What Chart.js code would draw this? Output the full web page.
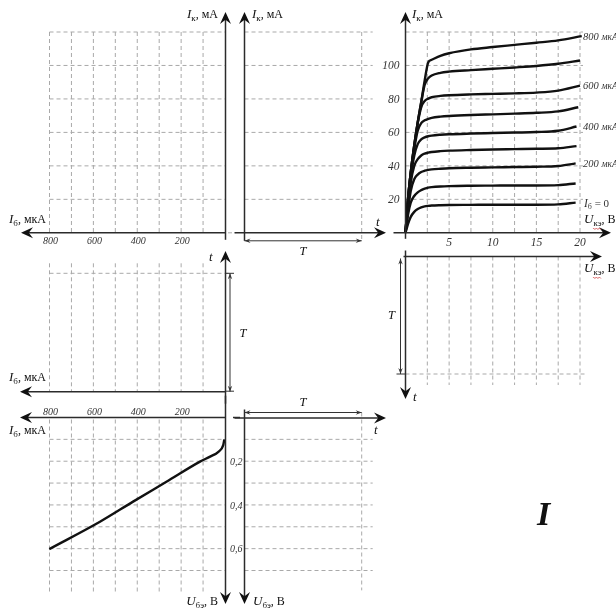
<!DOCTYPE html>
<html><head><meta charset="utf-8">
<script src="https://cdn.jsdelivr.net/npm/chart.js@4/dist/chart.umd.min.js"></script>
<style>html,body{margin:0;padding:0;background:#fff;overflow:hidden}canvas{display:block}</style>
</head><body>
<canvas id="c" width="616" height="610"></canvas>
<script>
// ================= DATA =================
const baseCurrents = [0, 100, 200, 300, 400, 500, 600, 700, 800];        // Iб, мкА
const ukeGrid = [0, 0.3, 0.6, 1, 1.4, 1.8, 2.2, 2.6, 3, 4, 5, 7.5, 10, 12.5, 15, 17.5]; // Uкэ, В
const ukeEnd = [19.5, 19.5, 19.5, 19.6, 19.6, 19.8, 20, 20, 20.2];       // last Uкэ point of each curve
const ik_ib0   = [0, 5.5, 9.5, 12.5, 14.2, 15.2, 15.8, 16.1, 16.3, 16.5, 16.6, 16.7, 16.8, 16.8, 16.8, 17, 18];
const ik_ib100 = [0, 11, 18, 22, 24.2, 25.5, 26.4, 27, 27.3, 27.7, 27.9, 28.1, 28.2, 28.3, 28.3, 28.5, 29.5];
const ik_ib200 = [0, 14, 25, 32, 34.8, 36.3, 37.1, 37.6, 37.9, 38.3, 38.6, 38.9, 39.1, 39.3, 39.5, 39.9, 41.5];
const ik_ib300 = [0, 16, 30, 40, 44, 46.2, 47.3, 47.9, 48.3, 48.8, 49.1, 49.5, 49.8, 50, 50.2, 50.5, 51.8];
const ik_ib400 = [0, 18, 33, 46, 53, 55.8, 57, 57.7, 58.1, 58.6, 58.9, 59.3, 59.6, 59.9, 60.2, 61, 63.5];
const ik_ib500 = [0, 20, 35, 50, 61, 65.5, 67.2, 68.1, 68.7, 69.4, 69.8, 70.4, 70.8, 71.2, 71.7, 72.6, 75];
const ik_ib600 = [0, 21, 36, 52, 65.5, 75, 78.8, 80.2, 81, 81.8, 82.2, 82.7, 83, 83.3, 83.8, 85, 88];
const ik_ib700 = [0, 21, 36, 52, 66, 78, 88.5, 92.3, 94, 95.6, 96.3, 97.2, 98, 98.8, 99.7, 101, 103];
const ik_ib800 = [0, 21, 36, 52, 66, 78, 91, 101.8, 103.4, 105.8, 107.3, 109.6, 111, 112.3, 113.6, 115, 117.5];
const ibInput  = [3, 8, 30, 68, 114, 267, 419, 570, 801];                 // Iб, мкА
const ubeInput = [0.1, 0.126, 0.157, 0.179, 0.202, 0.294, 0.385, 0.477, 0.602]; // Uбэ, В
const ibTickLabels = [800, 600, 400, 200];
const ibGridValues = [100, 200, 300, 400, 500, 600, 700, 800];
const ikTickLabels = [20, 40, 60, 80, 100];
const ikGridValues = [20, 40, 60, 80, 100, 120];
const ukeTickLabels = [5, 10, 15, 20];
const ukeGridValues = [2.5, 5, 7.5, 10, 12.5, 15, 17.5, 20];
const ubeTickLabels = [0.2, 0.4, 0.6];
const ubeGridValues = [0.1, 0.2, 0.3, 0.4, 0.5, 0.6, 0.7];
const curveLabelCurrents = [800, 600, 400, 200, 0];
const ikCurves = [ik_ib0, ik_ib100, ik_ib200, ik_ib300, ik_ib400, ik_ib500, ik_ib600, ik_ib700, ik_ib800];

// ================= LAYOUT =================
const W = 616, H = 610;
const SERIF = '"Liberation Serif", "DejaVu Serif", serif';
function fitScale(axis, v0, p0, v1, p1) {
  const size = axis === 'x' ? W : H;
  const k = (p1 - p0) / (v1 - v0);
  const a = v0 + (0 - p0) / k, b = v0 + (size - p0) / k;
  let r;
  if (axis === 'x') r = a < b ? {min: a, max: b, reverse: false} : {min: b, max: a, reverse: true};
  else r = b < a ? {min: b, max: a, reverse: false} : {min: a, max: b, reverse: true};
  return Object.assign({type: 'linear', axis: axis, display: false, ticks: {maxTicksLimit: 3}}, r);
}
const scales = {
  xIb:  fitScale('x', 0, 225, 800, 49.5),
  xT:   fitScale('x', 0, 244.5, 1, 361.7),
  xUke: fitScale('x', 0, 405.5, 20, 580),
  yIk:  fitScale('y', 0, 232.8, 120, 32),
  yTup: fitScale('y', 0, 391.7, 1, 273.3),
  yTdn: fitScale('y', 0, 256.5, 1, 374),
  yUbe: fitScale('y', 0, 417.5, 0.7, 570.5)
};

const datasets = ikCurves.map((arr, k) => ({
  label: 'Iб=' + baseCurrents[k],
  xAxisID: 'xUke', yAxisID: 'yIk',
  data: arr.map((v, i) => ({x: i < ukeGrid.length ? ukeGrid[i] : ukeEnd[k], y: v})),
  borderColor: '#111', borderWidth: 2.4, pointRadius: 0, showLine: true,
  cubicInterpolationMode: 'monotone', fill: false
}));
datasets.push({
  label: 'input',
  xAxisID: 'xIb', yAxisID: 'yUbe',
  data: ibInput.map((v, i) => ({x: v, y: ubeInput[i]})),
  borderColor: '#111', borderWidth: 2.4, pointRadius: 0, showLine: true,
  cubicInterpolationMode: 'monotone', fill: false
});

// ================= DRAW HELPERS =================
const AX = '#2b2b2b';
function head(ctx, x, y, ang, len, half) {
  ctx.save(); ctx.translate(x, y); ctx.rotate(ang);
  ctx.beginPath(); ctx.moveTo(0, 0); ctx.lineTo(-len, -half); ctx.lineTo(-len * 0.65, 0); ctx.lineTo(-len, half);
  ctx.closePath(); ctx.fill(); ctx.restore();
}
function axisArrow(ctx, x1, y1, x2, y2) {
  const ang = Math.atan2(y2 - y1, x2 - x1);
  ctx.save(); ctx.strokeStyle = AX; ctx.fillStyle = '#111'; ctx.lineWidth = 1.5; ctx.setLineDash([]);
  ctx.beginPath(); ctx.moveTo(x1, y1); ctx.lineTo(x2 - Math.cos(ang) * 6, y2 - Math.sin(ang) * 6); ctx.stroke();
  head(ctx, x2, y2, ang, 12, 5.5);
  ctx.restore();
}
function dimArrow(ctx, x1, y1, x2, y2) {
  const ang = Math.atan2(y2 - y1, x2 - x1);
  ctx.save(); ctx.strokeStyle = '#333'; ctx.fillStyle = '#333'; ctx.lineWidth = 1; ctx.setLineDash([]);
  ctx.beginPath(); ctx.moveTo(x1, y1); ctx.lineTo(x2, y2); ctx.stroke();
  head(ctx, x2, y2, ang, 6, 2.2); head(ctx, x1, y1, ang + Math.PI, 6, 2.2);
  ctx.restore();
}
function seg(ctx, x1, y1, x2, y2) { ctx.beginPath(); ctx.moveTo(x1, y1); ctx.lineTo(x2, y2); ctx.stroke(); }
function rich(ctx, x, y, parts, align) {
  let w = 0;
  for (const p of parts) { ctx.font = p[1]; w += ctx.measureText(p[0]).width; }
  let cx = align === 'right' ? x - w : align === 'center' ? x - w / 2 : x;
  const spans = [];
  for (const p of parts) {
    ctx.font = p[1]; const pw = ctx.measureText(p[0]).width;
    ctx.fillText(p[0], cx, y + (p[2] || 0));
    spans.push([cx, pw]); cx += pw;
  }
  return spans;
}
function squiggle(ctx, x, y, w) {
  ctx.save(); ctx.strokeStyle = '#d04040'; ctx.lineWidth = 0.8; ctx.setLineDash([]);
  ctx.beginPath(); ctx.moveTo(x, y);
  for (let i = 0; i <= w; i += 1.5) ctx.lineTo(x + i, y + ((Math.round(i / 1.5) % 2) ? 1 : -0.5));
  ctx.stroke(); ctx.restore();
}
const F = (s, st) => (st ? st + ' ' : '') + s + 'px ' + SERIF;
const lblIk = [['I', F(13, 'italic')], ['к', F(9), 3], [', мА', F(12)]];
const lblIb = [['I', F(13, 'italic')], ['б', F(9), 3], [', мкА', F(12)]];
function lblU(sub) { return [['U', F(13, 'italic')], [sub, F(9), 3], [', В', F(12)]]; }
function uLabel(ctx, x, y, sub, align) {
  const sp = rich(ctx, x, y, lblU(sub), align);
  squiggle(ctx, sp[1][0], y + 5.5, sp[1][1]);
}
function fmt(v) { return String(v).replace('.', ','); }

const diagram = {
  id: 'diagram',
  beforeDatasetsDraw(chart) {
    const ctx = chart.ctx, s = chart.scales;
    const X = (id, v) => s[id].getPixelForValue(v);
    ctx.save();
    ctx.strokeStyle = '#a9a9a9'; ctx.lineWidth = 1; ctx.setLineDash([4, 3]);
    const ik0 = X('yIk', 0), ikTop = X('yIk', 120);
    // top-left grid
    ibGridValues.forEach(v => seg(ctx, X('xIb', v), ikTop, X('xIb', v), ik0));
    ikGridValues.forEach(v => seg(ctx, X('xIb', 800), X('yIk', v), X('xIb', 0), X('yIk', v)));
    seg(ctx, X('xIb', 0) + 3, ik0, X('xT', 0) - 9, ik0);
    // top-middle grid
    ikGridValues.forEach(v => seg(ctx, X('xT', 0), X('yIk', v), X('xT', 1) + 11, X('yIk', v)));
    seg(ctx, X('xT', 1), ikTop, X('xT', 1), ik0 + 8);
    // top-right grid
    ikGridValues.forEach(v => seg(ctx, X('xUke', 0), X('yIk', v), X('xUke', 20) + 3, X('yIk', v)));
    ukeGridValues.forEach(v => seg(ctx, X('xUke', v), ikTop, X('xUke', v), ik0));
    // middle-left grid
    ibGridValues.forEach(v => seg(ctx, X('xIb', v), X('yTup', 1) - 10, X('xIb', v), X('yTup', 0)));
    seg(ctx, X('xIb', 800), X('yTup', 1), X('xIb', 0) + 4, X('yTup', 1));
    // bottom-right grid
    ukeGridValues.forEach(v => seg(ctx, X('xUke', v), X('yTdn', 0), X('xUke', v), X('yTdn', 1) + 11));
    seg(ctx, X('xUke', 0), X('yTdn', 1), X('xUke', 20) + 7, X('yTdn', 1));
    // bottom-left grid
    ibGridValues.forEach(v => seg(ctx, X('xIb', v), X('yUbe', 0) + 2, X('xIb', v), X('yUbe', 0.8)));
    ubeGridValues.forEach(v => seg(ctx, X('xIb', 800), X('yUbe', v), X('xIb', 0), X('yUbe', v)));
    // bottom-middle grid
    ubeGridValues.forEach(v => seg(ctx, X('xT', 0), X('yUbe', v), X('xT', 1) + 11, X('yUbe', v)));
    seg(ctx, X('xT', 1), X('yUbe', 0) - 5, X('xT', 1), X('yUbe', 0.8) - 2);
    ctx.restore();
  },
  afterDatasetsDraw(chart) {
    const ctx = chart.ctx, s = chart.scales;
    const X = (id, v) => s[id].getPixelForValue(v);
    const ik0 = X('yIk', 0), ib0 = X('xIb', 0), t0 = X('xT', 0), t1 = X('xT', 1), u0 = X('xUke', 0);
    const tup0 = X('yTup', 0), tup1 = X('yTup', 1), td0 = X('yTdn', 0), td1 = X('yTdn', 1), ube0 = X('yUbe', 0);
    ctx.save();
    // ---- axes ----
    axisArrow(ctx, ib0 + 0.5, ik0 + 7, ib0 + 0.5, 12);      // TL Iк
    axisArrow(ctx, ib0 + 0.5, ik0, 21, ik0);                // TL Iб
    axisArrow(ctx, t0, ik0 + 8, t0, 12);                    // TM Iк
    axisArrow(ctx, t0 - 10, ik0, 386, ik0);                 // TM t
    axisArrow(ctx, u0, ik0 + 6, u0, 12);                    // TR Iк
    axisArrow(ctx, u0 - 12, ik0, 611, ik0);                 // TR Uкэ
    axisArrow(ctx, ib0 + 0.5, tup0 + 12, ib0 + 0.5, 251);   // ML t
    axisArrow(ctx, ib0 + 0.5, tup0, 20, tup0);              // ML Iб
    axisArrow(ctx, u0, td0 - 6, u0, 399);                   // BR t
    axisArrow(ctx, u0 - 2, td0, 602, td0);                  // BR Uкэ
    axisArrow(ctx, ib0 + 0.5, tup0 + 4, ib0 + 0.5, 604);    // BL Uбэ
    axisArrow(ctx, ib0 + 0.5, ube0, 20, ube0);              // BL Iб
    axisArrow(ctx, t0, ube0 - 8, t0, 604);                  // BM Uбэ
    axisArrow(ctx, t0 - 10, ube0 + 0.5, 386, ube0 + 0.5);   // BM t
    ctx.strokeStyle = AX; ctx.lineWidth = 1.5;
    seg(ctx, ib0 + 8, ube0, ib0 + 15, ube0);
    // ---- period dimension arrows ----
    dimArrow(ctx, t0, ik0 + 8, t1, ik0 + 8);
    dimArrow(ctx, ib0 + 5, tup1, ib0 + 5, tup0);
    ctx.strokeStyle = '#333'; ctx.lineWidth = 1;
    seg(ctx, ib0, tup1, ib0 + 9, tup1); seg(ctx, ib0 + 1, tup0 - 0.5, ib0 + 9, tup0 - 0.5);
    dimArrow(ctx, u0 - 5, td0 + 2, u0 - 5, td1);
    seg(ctx, u0 - 9, td1, u0, td1);
    dimArrow(ctx, t0, ube0 - 5, t1, ube0 - 5);
    // ---- tick labels ----
    ctx.fillStyle = '#333'; ctx.textBaseline = 'alphabetic'; ctx.textAlign = 'center';
    ctx.font = F(10, 'italic');
    ibTickLabels.forEach(v => ctx.fillText(String(v), X('xIb', v) + 1, ik0 + 11));
    ibTickLabels.forEach(v => ctx.fillText(String(v), X('xIb', v) + 1, ube0 - 2.5));
    ctx.font = F(11.5, 'italic');
    ukeTickLabels.forEach(v => ctx.fillText(String(v), X('xUke', v), ik0 + 13));
    ctx.textAlign = 'right'; ctx.textBaseline = 'middle';
    ikTickLabels.forEach(v => ctx.fillText(String(v), u0 - 6, X('yIk', v) + 1));
    ctx.textAlign = 'left'; ctx.font = F(10, 'italic');
    ubeTickLabels.forEach(v => ctx.fillText(fmt(v), ib0 + 5, X('yUbe', v) + 1));
    // ---- curve labels ----
    curveLabelCurrents.forEach(ib => {
      const k = baseCurrents.indexOf(ib);
      const arr = ikCurves[k];
      const y = X('yIk', arr[arr.length - 1]) + 1;
      const x = X('xUke', 20) + 3;
      if (ib === 0) rich(ctx, x + 1, y, [['I', F(11.5, 'italic')], ['б', F(8), 3], [' = 0', F(11)]], 'left');
      else rich(ctx, x, y, [[ib + ' ', F(10.5, 'italic')], ['мкА', F(9.5, 'italic')]], 'left');
    });
    // ---- axis titles ----
    ctx.textBaseline = 'alphabetic'; ctx.textAlign = 'left'; ctx.fillStyle = '#111';
    rich(ctx, 218, 18, lblIk, 'right');
    rich(ctx, 252, 18, lblIk, 'left');
    rich(ctx, 412, 18, lblIk, 'left');
    rich(ctx, 9, 223, lblIb, 'left');
    rich(ctx, 9, 381, lblIb, 'left');
    rich(ctx, 9, 434, lblIb, 'left');
    uLabel(ctx, 584, 223, 'кэ', 'left');
    uLabel(ctx, 584, 272, 'кэ', 'left');
    uLabel(ctx, 218, 605, 'бэ', 'right');
    uLabel(ctx, 253, 605, 'бэ', 'left');
    // t labels
    ctx.font = F(13, 'italic');
    ctx.fillText('t', 376, 226); ctx.fillText('t', 209, 261); ctx.fillText('t', 374, 434); ctx.fillText('t', 413, 401);
    // T labels
    ctx.textAlign = 'center'; ctx.font = F(12.5, 'italic');
    ctx.fillText('T', (t0 + t1) / 2, ik0 + 22);
    ctx.fillText('T', ib0 + 18, (tup0 + tup1) / 2 + 4);
    ctx.fillText('T', u0 - 14, (td0 + td1) / 2 + 4);
    ctx.fillText('T', (t0 + t1) / 2, ube0 - 12);
    // big I
    ctx.textAlign = 'left'; ctx.font = F(34, 'bold italic');
    ctx.fillText('I', 537, 525);
    ctx.restore();
  }
};

new Chart(document.getElementById('c'), {
  type: 'scatter',
  data: {datasets: datasets},
  options: {
    responsive: false, animation: false, devicePixelRatio: 1,
    layout: {padding: 0},
    events: [],
    scales: scales,
    plugins: {legend: {display: false}, tooltip: {enabled: false}, title: {display: false}}
  },
  plugins: [diagram]
});
</script>
</body></html>
